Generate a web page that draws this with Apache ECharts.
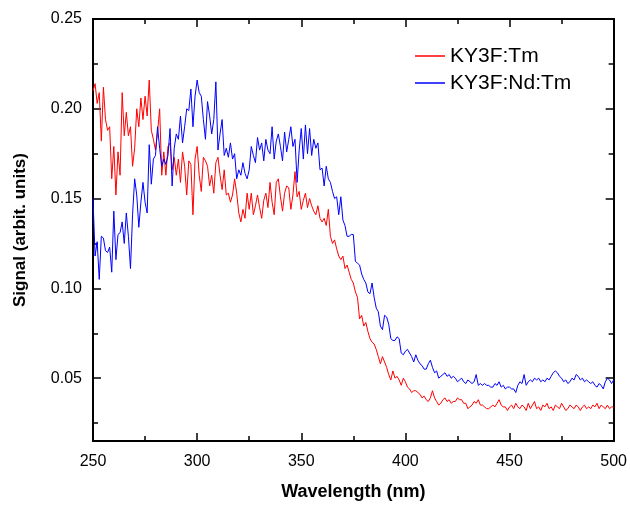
<!DOCTYPE html>
<html>
<head>
<meta charset="utf-8">
<title>Signal vs Wavelength</title>
<script src="https://cdn.jsdelivr.net/npm/echarts@6/dist/echarts.min.js"></script>
<style>
  html, body { margin: 0; padding: 0; background: #fff; }
  #chart { width: 630px; height: 506px; }
</style>
</head>
<body>
<div id="chart"></div>
<script>
// ========== Data (1 nm steps from 250 to 500 nm) ==========
const wlStart = 250, wlStep = 1;

// KY3F:Tm
const tmSignal = [
    0.210,0.214,0.203,0.209,0.182,0.212,0.194,0.188,0.190,0.161, // 250
    0.179,0.152,0.176,0.163,0.209,0.185,0.198,0.185,0.190,0.168, // 260
    0.178,0.200,0.190,0.206,0.194,0.207,0.196,0.216,0.188,0.183, // 270
    0.177,0.187,0.200,0.163,0.176,0.163,0.179,0.181,0.166,0.173, // 280
    0.163,0.172,0.159,0.176,0.168,0.152,0.171,0.169,0.141,0.172, // 290
    0.179,0.163,0.154,0.173,0.171,0.168,0.157,0.163,0.153,0.170, // 300
    0.173,0.163,0.155,0.166,0.152,0.153,0.148,0.152,0.161,0.153, // 310
    0.142,0.137,0.144,0.139,0.153,0.144,0.153,0.141,0.146,0.152, // 320
    0.145,0.139,0.149,0.153,0.145,0.159,0.148,0.141,0.159,0.161, // 330
    0.151,0.143,0.153,0.157,0.156,0.144,0.152,0.165,0.151,0.154, // 340
    0.144,0.149,0.153,0.145,0.150,0.146,0.143,0.141,0.146,0.139, // 350
    0.137,0.139,0.135,0.144,0.129,0.125,0.127,0.122,0.118,0.116, // 360
    0.118,0.111,0.113,0.109,0.105,0.103,0.098,0.095,0.083,0.085, // 370
    0.079,0.081,0.076,0.072,0.070,0.069,0.066,0.062,0.058,0.062, // 380
    0.059,0.056,0.052,0.049,0.054,0.050,0.051,0.049,0.046,0.050, // 390
    0.048,0.045,0.044,0.042,0.043,0.043,0.042,0.041,0.039,0.040, // 400
    0.038,0.037,0.039,0.043,0.039,0.037,0.035,0.036,0.038,0.039, // 410
    0.037,0.038,0.036,0.037,0.037,0.039,0.038,0.038,0.036,0.036, // 420
    0.033,0.034,0.035,0.037,0.036,0.038,0.035,0.035,0.034,0.033, // 430
    0.033,0.034,0.035,0.034,0.036,0.038,0.035,0.034,0.034,0.032, // 440
    0.034,0.035,0.033,0.036,0.034,0.033,0.035,0.034,0.032,0.036, // 450
    0.033,0.035,0.037,0.033,0.034,0.032,0.035,0.034,0.036,0.033, // 460
    0.034,0.032,0.035,0.034,0.033,0.036,0.034,0.032,0.033,0.035, // 470
    0.034,0.033,0.035,0.034,0.032,0.034,0.035,0.033,0.034,0.033, // 480
    0.035,0.034,0.036,0.033,0.035,0.034,0.033,0.035,0.033,0.034, // 490
    0.034                                                        // 500
];

// KY3F:Nd:Tm
const ndTmSignal = [
    0.150,0.118,0.126,0.105,0.129,0.128,0.121,0.120,0.123,0.109, // 250
    0.143,0.116,0.130,0.131,0.137,0.125,0.142,0.129,0.111,0.141, // 260
    0.161,0.152,0.134,0.148,0.159,0.148,0.142,0.180,0.158,0.172, // 270
    0.174,0.190,0.178,0.168,0.172,0.169,0.174,0.189,0.157,0.178, // 280
    0.186,0.183,0.196,0.181,0.190,0.200,0.199,0.211,0.190,0.207, // 290
    0.216,0.209,0.207,0.194,0.183,0.204,0.196,0.186,0.194,0.215, // 300
    0.177,0.186,0.194,0.174,0.178,0.173,0.181,0.172,0.175,0.161, // 310
    0.166,0.163,0.170,0.164,0.161,0.166,0.179,0.174,0.170,0.184, // 320
    0.177,0.181,0.171,0.183,0.177,0.175,0.190,0.172,0.182,0.186, // 330
    0.179,0.171,0.187,0.176,0.183,0.190,0.179,0.183,0.159,0.177, // 340
    0.189,0.172,0.191,0.175,0.189,0.174,0.183,0.178,0.181,0.166, // 350
    0.167,0.157,0.168,0.161,0.159,0.154,0.150,0.151,0.141,0.151, // 360
    0.138,0.135,0.129,0.129,0.130,0.130,0.115,0.114,0.113,0.108, // 370
    0.105,0.103,0.098,0.097,0.103,0.095,0.089,0.087,0.079,0.077, // 380
    0.085,0.084,0.080,0.072,0.071,0.071,0.073,0.072,0.064,0.063, // 390
    0.065,0.066,0.064,0.062,0.059,0.063,0.060,0.058,0.057,0.055, // 400
    0.055,0.058,0.060,0.056,0.053,0.054,0.050,0.051,0.052,0.053, // 410
    0.051,0.052,0.050,0.051,0.050,0.048,0.049,0.050,0.048,0.047, // 420
    0.049,0.048,0.047,0.048,0.052,0.046,0.047,0.046,0.047,0.046, // 430
    0.046,0.045,0.045,0.047,0.046,0.048,0.045,0.046,0.044,0.045, // 440
    0.045,0.044,0.044,0.042,0.046,0.048,0.047,0.052,0.046,0.048, // 450
    0.049,0.048,0.050,0.049,0.050,0.048,0.049,0.048,0.050,0.049, // 460
    0.051,0.053,0.054,0.053,0.051,0.050,0.048,0.049,0.047,0.048, // 470
    0.050,0.049,0.052,0.051,0.049,0.050,0.048,0.049,0.048,0.047, // 480
    0.048,0.046,0.045,0.047,0.046,0.044,0.048,0.050,0.049,0.047, // 490
    0.049                                                        // 500
];

// tick values
const yMajorTicks = [0.05, 0.10, 0.15, 0.20, 0.25];
const yMinorTicks = [0.025, 0.075, 0.125, 0.175, 0.225];
const xTickLabels = [250, 300, 350, 400, 450, 500];

// ========== Build chart ==========
const FONT = '"Liberation Sans", Arial, Helvetica, sans-serif';
const toPairs = arr => arr.map((v, i) => [wlStart + i * wlStep, v]);

const chart = echarts.init(document.getElementById('chart'), null, { renderer: 'canvas' });

const axisLine = { show: true, lineStyle: { color: '#000', width: 2 } };

function yAxisDef(position, ticks, len, withLabel) {
    return {
        type: 'value', position: position,
        min: 0.015, max: 0.25,
        axisLine: axisLine,
        splitLine: { show: false },
        axisTick: { show: true, inside: true, length: len, customValues: ticks, lineStyle: { color: '#000', width: 1.5 } },
        axisLabel: withLabel ? {
            show: true, customValues: yMajorTicks, margin: 11,
            color: '#000', fontFamily: FONT, fontSize: 16,
            formatter: v => v.toFixed(2)
        } : { show: false },
        name: withLabel ? 'Signal (arbit. units)' : '',
        nameLocation: 'middle', nameGap: 64, nameRotate: 90,
        nameTextStyle: { color: '#000', fontFamily: FONT, fontSize: 17, fontWeight: 'bold' }
    };
}

function xAxisDef(position, withLabel) {
    return {
        type: 'value', position: position,
        min: xTickLabels[0], max: xTickLabels[xTickLabels.length - 1], interval: 50,
        axisLine: axisLine,
        splitLine: { show: false },
        axisTick: { show: true, inside: true, length: 8, lineStyle: { color: '#000', width: 1.5 } },
        minorTick: { show: true, splitNumber: 2, length: 5, lineStyle: { color: '#000', width: 1.5 } },
        axisLabel: withLabel ? { show: true, margin: 13, color: '#000', fontFamily: FONT, fontSize: 16 } : { show: false },
        name: withLabel ? 'Wavelength (nm)' : '',
        nameLocation: 'middle', nameGap: 42,
        nameTextStyle: { color: '#000', fontFamily: FONT, fontSize: 18, fontWeight: 'bold' }
    };
}

chart.setOption({
    animation: false,
    backgroundColor: '#fff',
    grid: { left: 93, right: 15, top: 19, bottom: 63, containLabel: false },
    legend: {
        orient: 'vertical', left: 410, top: 40,
        icon: 'rect', itemWidth: 30, itemHeight: 1.5, itemGap: 5,
        textStyle: { color: '#000', fontFamily: FONT, fontSize: 21, lineHeight: 22 },
        data: ['KY3F:Tm', 'KY3F:Nd:Tm']
    },
    xAxis: [xAxisDef('bottom', true), xAxisDef('top', false)],
    yAxis: [
        yAxisDef('left', yMajorTicks, 8, true),
        yAxisDef('left', yMinorTicks, 5, false),
        yAxisDef('right', yMajorTicks, 8, false),
        yAxisDef('right', yMinorTicks, 5, false)
    ],
    series: [
        {
            name: 'KY3F:Tm', type: 'line', xAxisIndex: 0, yAxisIndex: 0,
            showSymbol: false, symbol: 'none',
            lineStyle: { color: '#ff0000', width: 1 }, itemStyle: { color: '#ff0000' },
            data: toPairs(tmSignal)
        },
        {
            name: 'KY3F:Nd:Tm', type: 'line', xAxisIndex: 0, yAxisIndex: 0,
            showSymbol: false, symbol: 'none',
            lineStyle: { color: '#0000ff', width: 1 }, itemStyle: { color: '#0000ff' },
            data: toPairs(ndTmSignal)
        }
    ]
});
</script>
</body>
</html>
